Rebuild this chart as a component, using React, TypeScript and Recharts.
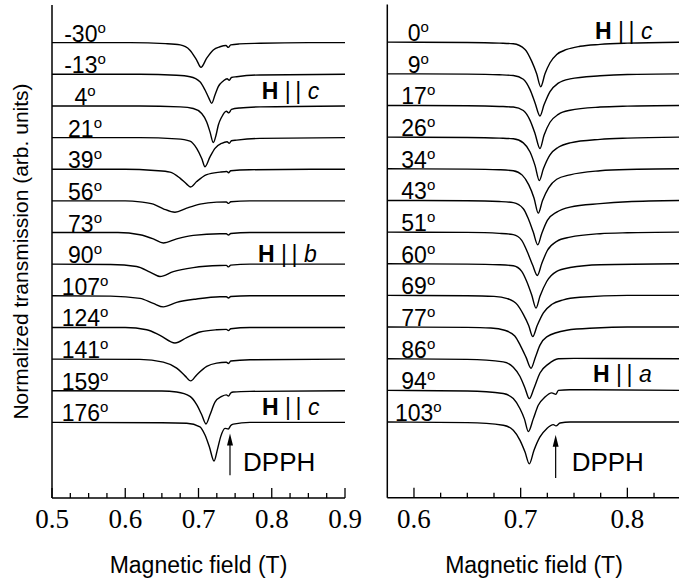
import React from 'react';
import { LineChart, Line, XAxis, YAxis, ReferenceDot, ReferenceLine } from 'recharts';

// ---------- categories (rotation angles) ----------
const leftAngles = [-30, -13, 4, 21, 39, 56, 73, 90, 107, 124, 141, 159, 176];
const rightAngles = [0, 9, 17, 26, 34, 43, 51, 60, 69, 77, 86, 94, 103];

// ---------- left panel traces: [field (T), relative transmission] ----------
const L_m30 = [[0.5,0],[0.607,0],[0.655,-0.03],[0.675,-0.07],[0.688,-0.23],[0.6975,-0.55],[0.7034,-0.78],[0.7112,-0.49],[0.7202,-0.23],[0.7293,-0.13],[0.7375,-0.09],[0.7407,-0.15],[0.744,-0.07],[0.756,-0.04],[0.784,-0.02],[0.85,0],[0.9,0]];
const L_m13 = [[0.5,0],[0.62,0],[0.67,-0.03],[0.6884,-0.076],[0.702,-0.234],[0.7089,-0.496],[0.7143,-0.76],[0.718,-0.917],[0.7225,-0.654],[0.727,-0.39],[0.7339,-0.21],[0.739,-0.14],[0.742,-0.19],[0.745,-0.1],[0.7521,-0.076],[0.784,-0.02],[0.9,0]];
const L_4 = [[0.5,0],[0.62,0],[0.675,-0.03],[0.6929,-0.082],[0.7044,-0.24],[0.7112,-0.506],[0.7157,-0.82],[0.7202,-1.157],[0.7239,-0.926],[0.727,-0.61],[0.7317,-0.348],[0.738,-0.17],[0.7415,-0.22],[0.745,-0.11],[0.7566,-0.063],[0.784,-0.03],[0.9,0]];
const L_21 = [[0.5,0],[0.62,0],[0.67,-0.04],[0.6884,-0.11],[0.6975,-0.34],[0.7044,-0.66],[0.7089,-0.92],[0.7157,-0.61],[0.7225,-0.34],[0.7317,-0.18],[0.739,-0.13],[0.742,-0.18],[0.745,-0.1],[0.7521,-0.08],[0.784,-0.025],[0.9,0]];
const L_39 = [[0.5,0],[0.6,0],[0.64,-0.04],[0.6611,-0.09],[0.6747,-0.28],[0.6839,-0.47],[0.6894,-0.56],[0.6975,-0.39],[0.7112,-0.17],[0.7293,-0.09],[0.7385,-0.07],[0.741,-0.11],[0.744,-0.05],[0.77,-0.015],[0.9,0]];
const L_56 = [[0.5,0],[0.6,0],[0.6201,-0.03],[0.6383,-0.104],[0.652,-0.25],[0.6679,-0.36],[0.6839,-0.23],[0.702,-0.104],[0.7248,-0.04],[0.738,-0.035],[0.741,-0.08],[0.744,-0.03],[0.7703,0],[0.9,0]];
const L_73 = [[0.5,0],[0.59,0],[0.6201,-0.07],[0.6383,-0.2],[0.652,-0.33],[0.6702,-0.2],[0.6929,-0.09],[0.7293,-0.04],[0.738,-0.04],[0.741,-0.08],[0.744,-0.03],[0.7703,0],[0.9,0]];
const L_90 = [[0.5,0],[0.58,-0.01],[0.6156,-0.076],[0.6338,-0.25],[0.6474,-0.39],[0.6656,-0.235],[0.6929,-0.11],[0.7293,-0.044],[0.738,-0.04],[0.741,-0.085],[0.744,-0.03],[0.7703,0],[0.9,0]];
const L_107 = [[0.5,0],[0.58,-0.01],[0.6201,-0.08],[0.6383,-0.24],[0.652,-0.35],[0.6702,-0.21],[0.6975,-0.1],[0.7293,-0.03],[0.738,-0.03],[0.741,-0.07],[0.744,-0.02],[0.7703,0],[0.9,0]];
const L_124 = [[0.5,0],[0.6,0],[0.6293,-0.073],[0.6474,-0.25],[0.6679,-0.49],[0.6839,-0.32],[0.702,-0.145],[0.7248,-0.073],[0.738,-0.06],[0.741,-0.1],[0.744,-0.04],[0.7703,0],[0.9,0]];
const L_141 = [[0.5,0],[0.62,-0.01],[0.652,-0.095],[0.6702,-0.285],[0.6816,-0.53],[0.6894,-0.69],[0.6975,-0.5],[0.7112,-0.23],[0.7248,-0.126],[0.738,-0.1],[0.741,-0.14],[0.744,-0.06],[0.7703,-0.02],[0.9,0]];
const L_159 = [[0.5,0],[0.65,-0.01],[0.6702,-0.04],[0.6884,-0.18],[0.6975,-0.44],[0.7044,-0.76],[0.7102,-1.05],[0.7157,-0.76],[0.7225,-0.36],[0.7317,-0.18],[0.738,-0.13],[0.741,-0.17],[0.744,-0.07],[0.7475,-0.04],[0.7703,-0.02],[0.9,0]];
const L_176 = [[0.5,0],[0.65,-0.01],[0.6839,-0.03],[0.702,-0.14],[0.7089,-0.4],[0.7148,-0.77],[0.7212,-1.22],[0.7257,-0.87],[0.7303,-0.45],[0.7362,-0.19],[0.7407,-0.21],[0.744,-0.1],[0.7475,-0.055],[0.7703,0],[0.9,0]];

// ---------- right panel traces ----------
const R_0 = [[0.575,0],[0.65,-0.01],[0.68,-0.03],[0.6931,-0.05],[0.7041,-0.23],[0.7103,-0.6],[0.715,-1.0],[0.7188,-1.41],[0.7228,-1.0],[0.7275,-0.65],[0.7338,-0.39],[0.7432,-0.23],[0.7556,-0.13],[0.7744,-0.07],[0.8,-0.03],[0.85,0]];
const R_9 = [[0.575,0],[0.65,-0.01],[0.68,-0.03],[0.6931,-0.054],[0.7025,-0.17],[0.7088,-0.5],[0.7135,-0.92],[0.7181,-1.33],[0.7219,-0.98],[0.7275,-0.56],[0.7353,-0.295],[0.7463,-0.16],[0.7744,-0.063],[0.8,-0.02],[0.85,0]];
const R_17 = [[0.575,0],[0.65,-0.01],[0.68,-0.03],[0.6931,-0.05],[0.7025,-0.16],[0.7088,-0.47],[0.7135,-0.89],[0.7181,-1.36],[0.7219,-0.94],[0.7275,-0.53],[0.7353,-0.28],[0.7463,-0.15],[0.7744,-0.05],[0.8,-0.02],[0.85,0]];
const R_26 = [[0.575,0],[0.65,-0.01],[0.68,-0.03],[0.6931,-0.05],[0.7025,-0.18],[0.7088,-0.47],[0.7135,-0.9],[0.7175,-1.37],[0.7213,-1.0],[0.7275,-0.56],[0.7353,-0.32],[0.7463,-0.18],[0.7744,-0.07],[0.8,-0.03],[0.85,0]];
const R_34 = [[0.575,0],[0.65,-0.01],[0.68,-0.03],[0.6931,-0.06],[0.7015,-0.2],[0.7075,-0.5],[0.7125,-0.92],[0.7165,-1.4],[0.7205,-1.0],[0.7262,-0.6],[0.7338,-0.33],[0.7463,-0.19],[0.7744,-0.06],[0.8,-0.02],[0.85,0]];
const R_43 = [[0.575,0],[0.65,-0.01],[0.68,-0.035],[0.6931,-0.07],[0.7025,-0.26],[0.7072,-0.58],[0.7118,-1.0],[0.716,-1.4],[0.7197,-1.05],[0.725,-0.63],[0.7338,-0.37],[0.7463,-0.21],[0.7744,-0.1],[0.8,-0.04],[0.85,0]];
const R_51 = [[0.575,0],[0.65,-0.01],[0.68,-0.04],[0.6931,-0.08],[0.701,-0.26],[0.7063,-0.63],[0.7113,-1.05],[0.7156,-1.37],[0.7197,-1.0],[0.725,-0.58],[0.7338,-0.29],[0.7463,-0.16],[0.7744,-0.05],[0.8,-0.02],[0.85,0]];
const R_60 = [[0.575,0],[0.65,-0.01],[0.68,-0.03],[0.6931,-0.063],[0.701,-0.24],[0.7057,-0.56],[0.7103,-0.98],[0.7144,-1.4],[0.7181,-1.03],[0.7244,-0.56],[0.7338,-0.24],[0.7463,-0.12],[0.7744,-0.03],[0.85,0]];
const R_69 = [[0.575,0],[0.65,-0.01],[0.675,-0.03],[0.6875,-0.1],[0.697,-0.3],[0.7025,-0.6],[0.7075,-0.95],[0.7113,-1.3],[0.7155,-0.95],[0.7213,-0.55],[0.7294,-0.28],[0.74,-0.14],[0.7556,-0.06],[0.8,0],[0.85,0]];
const R_77 = [[0.575,0],[0.65,-0.01],[0.672,-0.03],[0.685,-0.1],[0.6945,-0.28],[0.7,-0.6],[0.705,-0.95],[0.7097,-1.3],[0.7138,-0.95],[0.7181,-0.57],[0.7244,-0.31],[0.7432,-0.1],[0.77,-0.03],[0.8,0],[0.85,0]];
const R_86 = [[0.575,0],[0.65,-0.02],[0.6837,-0.1],[0.6931,-0.27],[0.6994,-0.56],[0.7041,-0.93],[0.7081,-1.26],[0.7125,-0.93],[0.7181,-0.45],[0.7259,-0.17],[0.7353,0],[0.75,0.01],[0.85,0]];
const R_94 = [[0.575,0],[0.65,-0.02],[0.6837,-0.1],[0.6931,-0.26],[0.6994,-0.58],[0.7035,-0.9],[0.7072,-1.3],[0.7118,-0.9],[0.7165,-0.47],[0.7228,-0.21],[0.7291,-0.08],[0.7331,-0.12],[0.7353,0],[0.746,0.02],[0.85,0]];
const R_103 = [[0.575,0],[0.65,-0.02],[0.6837,-0.1],[0.6931,-0.26],[0.6994,-0.58],[0.7041,-0.95],[0.7081,-1.32],[0.7125,-0.89],[0.7181,-0.47],[0.7244,-0.21],[0.7306,-0.08],[0.7331,-0.12],[0.7369,-0.03],[0.7463,0],[0.85,0]];

const leftTraces = [L_m30, L_m13, L_4, L_21, L_39, L_56, L_73, L_90, L_107, L_124, L_141, L_159, L_176];
const rightTraces = [R_0, R_9, R_17, R_26, R_34, R_43, R_51, R_60, R_69, R_77, R_86, R_94, R_103];

// ---------- axes ----------
const leftDomain = [0.5, 0.9];
const rightDomain = [0.575, 0.85];
const yDomain = [-2.39, 13.19];
const leftMajorTicks = [0.5, 0.6, 0.7, 0.8, 0.9];
const leftMinorTicks = [0.525, 0.55, 0.575, 0.625, 0.65, 0.675, 0.725, 0.75, 0.775, 0.825, 0.85, 0.875];
const rightMajorTicks = [0.6, 0.7, 0.8];
const rightMinorTicks = [0.625, 0.65, 0.675, 0.725, 0.75, 0.775, 0.825];

// ---------- annotations ----------
const leftNotes = [
  { x: 0.7863, y: 10.21, letter: 'c' },
  { x: 0.7812, y: 5.08, letter: 'b' },
  { x: 0.7867, y: 0.23, letter: 'c' },
];
const rightNotes = [
  { x: 0.7697, y: 12.09, letter: 'c' },
  { x: 0.7678, y: 1.28, letter: 'a' },
];
const leftDpph = { x: 0.743, tail: -1.67, tip: -0.35, textX: 0.7608, textY: -1.54 };
const rightDpph = { x: 0.7328, tail: -1.77, tip: -0.4, textX: 0.7478, textY: -1.54 };

const SANS = '"Liberation Sans", Arial, Helvetica, sans-serif';
const SERIF = '"Liberation Serif", "Times New Roman", serif';

const toSeries = (trace: number[][], offset: number) => trace.map(([f, v]) => ({ f, y: offset + v }));

const isMajor = (majors: number[], v: number) => majors.some((m) => Math.abs(m - v) < 1e-6);

const bottomTick = (majors: number[]) => (props: any) => {
  const { x, y, payload } = props;
  const major = isMajor(majors, payload.value);
  return (
    <g>
      <line x1={x} x2={x} y1={y} y2={y - (major ? 10 : 5)} stroke="#000" strokeWidth={1.3} />
      {major && (
        <text x={x} y={y + 30} textAnchor="middle" fontFamily={SERIF} fontSize={27} fill="#000">
          {Number(payload.value).toFixed(1)}
        </text>
      )}
    </g>
  );
};

const topTick = (majors: number[]) => (props: any) => {
  const { x, y, payload } = props;
  const major = isMajor(majors, payload.value);
  return <line x1={x} x2={x} y1={y} y2={y + (major ? 10 : 5)} stroke="#000" strokeWidth={1.3} />;
};

const angleLabel = (angle: number, dx: number) => (props: any) => {
  const { cx, cy } = props;
  return (
    <text x={cx + dx} y={cy - 1} textAnchor="middle" fontFamily={SANS} fontSize={23} fill="#000">
      {String(angle)}
      <tspan fontSize={15} dy={-9}>o</tspan>
    </text>
  );
};

const noteShape = (letter: string) => (props: any) => {
  const { cx, cy } = props;
  return (
    <text x={cx} y={cy} fontFamily={SANS} fontSize={23} fill="#000" style={{ whiteSpace: 'pre' }}>
      <tspan fontWeight="bold">H</tspan>
      <tspan>{' |\u2009| '}</tspan>
      <tspan fontStyle="italic">{letter}</tspan>
    </text>
  );
};

const textShape = (txt: string) => (props: any) => (
  <text x={props.cx} y={props.cy} fontFamily={SANS} fontSize={26} fill="#000">{txt}</text>
);

const arrowHead = (props: any) => {
  const { cx, cy } = props;
  return <polygon points={`${cx},${cy} ${cx - 3},${cy + 12} ${cx + 3},${cy + 12}`} fill="#000" />;
};

const xTitle = (props: any) => {
  const vb = props.viewBox || {};
  const x = (vb.x ?? 0) + (vb.width ?? 0) / 2;
  const y = (vb.y ?? 0) + 75;
  return (
    <text x={x} y={y} textAnchor="middle" fontFamily={SANS} fontSize={23} fill="#000">
      Magnetic field (T)
    </text>
  );
};

const yTitle = (props: any) => {
  const vb = props.viewBox || {};
  const x = (vb.x ?? 0) + 28;
  const y = (vb.y ?? 0) + (vb.height ?? 0) / 2;
  return (
    <text x={x} y={y} textAnchor="middle" transform={`rotate(-90, ${x}, ${y})`} fontFamily={SANS} fontSize={21} fill="#000">
      Normalized transmission (arb. units)
    </text>
  );
};

type PanelProps = {
  width: number;
  traces: number[][][];
  angles: number[];
  domain: number[];
  majors: number[];
  minors: number[];
  yAxisWidth: number;
  margin: { top: number; right: number; bottom: number; left: number };
  bottomHeight: number;
  labelDx: number;
  notes: { x: number; y: number; letter: string }[];
  dpph: { x: number; tail: number; tip: number; textX: number; textY: number };
  showYTitle: boolean;
};

function Panel(p: PanelProps) {
  const n = p.traces.length;
  const ticks = [...p.majors, ...p.minors].sort((a, b) => a - b);
  return (
    <LineChart width={p.width} height={585} margin={p.margin}>
      <XAxis
        xAxisId="b"
        type="number"
        dataKey="f"
        domain={p.domain}
        allowDataOverflow
        ticks={ticks}
        interval={0}
        tickLine={false}
        tickSize={0}
        tickMargin={0}
        tick={bottomTick(p.majors)}
        height={p.bottomHeight}
        axisLine={{ stroke: '#000', strokeWidth: 1.5 }}
        label={xTitle}
      />
      <XAxis
        xAxisId="t"
        orientation="top"
        type="number"
        dataKey="f"
        domain={p.domain}
        allowDataOverflow
        ticks={ticks}
        interval={0}
        tickLine={false}
        tickSize={0}
        tickMargin={0}
        tick={topTick(p.majors)}
        height={0}
        axisLine={{ stroke: '#000', strokeWidth: 1.5 }}
      />
      <YAxis
        yAxisId="l"
        type="number"
        domain={yDomain}
        allowDataOverflow
        tick={false}
        tickLine={false}
        width={p.yAxisWidth}
        axisLine={{ stroke: '#000', strokeWidth: 1.5 }}
        label={p.showYTitle ? yTitle : undefined}
      />
      <YAxis
        yAxisId="r"
        orientation="right"
        type="number"
        domain={yDomain}
        allowDataOverflow
        tick={false}
        tickLine={false}
        width={0}
        axisLine={{ stroke: '#000', strokeWidth: 1.5 }}
      />
      {p.traces.map((tr, i) => (
        <Line
          key={'s' + i}
          xAxisId="b"
          yAxisId="l"
          data={toSeries(tr, n - 1 - i)}
          dataKey="y"
          type="monotone"
          stroke="#000"
          strokeWidth={1.4}
          dot={false}
          activeDot={false}
          isAnimationActive={false}
        />
      ))}
      {p.angles.map((a, i) => (
        <ReferenceDot
          key={'a' + i}
          xAxisId="b"
          yAxisId="l"
          x={p.domain[0]}
          y={n - 1 - i}
          r={0}
          ifOverflow="visible"
          shape={angleLabel(a, p.labelDx)}
        />
      ))}
      {p.notes.map((nt, i) => (
        <ReferenceDot
          key={'n' + i}
          xAxisId="b"
          yAxisId="l"
          x={nt.x}
          y={nt.y}
          r={0}
          ifOverflow="visible"
          shape={noteShape(nt.letter)}
        />
      ))}
      <ReferenceLine
        xAxisId="b"
        yAxisId="l"
        segment={[{ x: p.dpph.x, y: p.dpph.tail }, { x: p.dpph.x, y: p.dpph.tip - 0.2 }]}
        stroke="#000"
        strokeWidth={1.2}
        ifOverflow="visible"
      />
      <ReferenceDot xAxisId="b" yAxisId="l" x={p.dpph.x} y={p.dpph.tip} r={0} ifOverflow="visible" shape={arrowHead} />
      <ReferenceDot xAxisId="b" yAxisId="l" x={p.dpph.textX} y={p.dpph.textY} r={0} ifOverflow="visible" shape={textShape('DPPH')} />
    </LineChart>
  );
}

export default function App() {
  return (
    <div style={{ position: 'fixed', left: 0, top: 0, width: 679, height: 585, overflow: 'hidden', background: '#fff' }}>
      <div style={{ position: 'absolute', left: 0, top: 0 }}>
        <Panel
          width={380}
          traces={leftTraces}
          angles={leftAngles}
          domain={leftDomain}
          majors={leftMajorTicks}
          minors={leftMinorTicks}
          yAxisWidth={52}
          margin={{ top: 5, right: 35, bottom: 0, left: 0 }}
          bottomHeight={87}
          labelDx={33}
          notes={leftNotes}
          dpph={leftDpph}
          showYTitle
        />
      </div>
      <div style={{ position: 'absolute', left: 360, top: 0 }}>
        <Panel
          width={340}
          traces={rightTraces}
          angles={rightAngles}
          domain={rightDomain}
          majors={rightMajorTicks}
          minors={rightMinorTicks}
          yAxisWidth={27.3}
          margin={{ top: 4.5, right: 19.3, bottom: 0, left: 0 }}
          bottomHeight={87.3}
          labelDx={31}
          notes={rightNotes}
          dpph={rightDpph}
          showYTitle={false}
        />
      </div>
    </div>
  );
}
